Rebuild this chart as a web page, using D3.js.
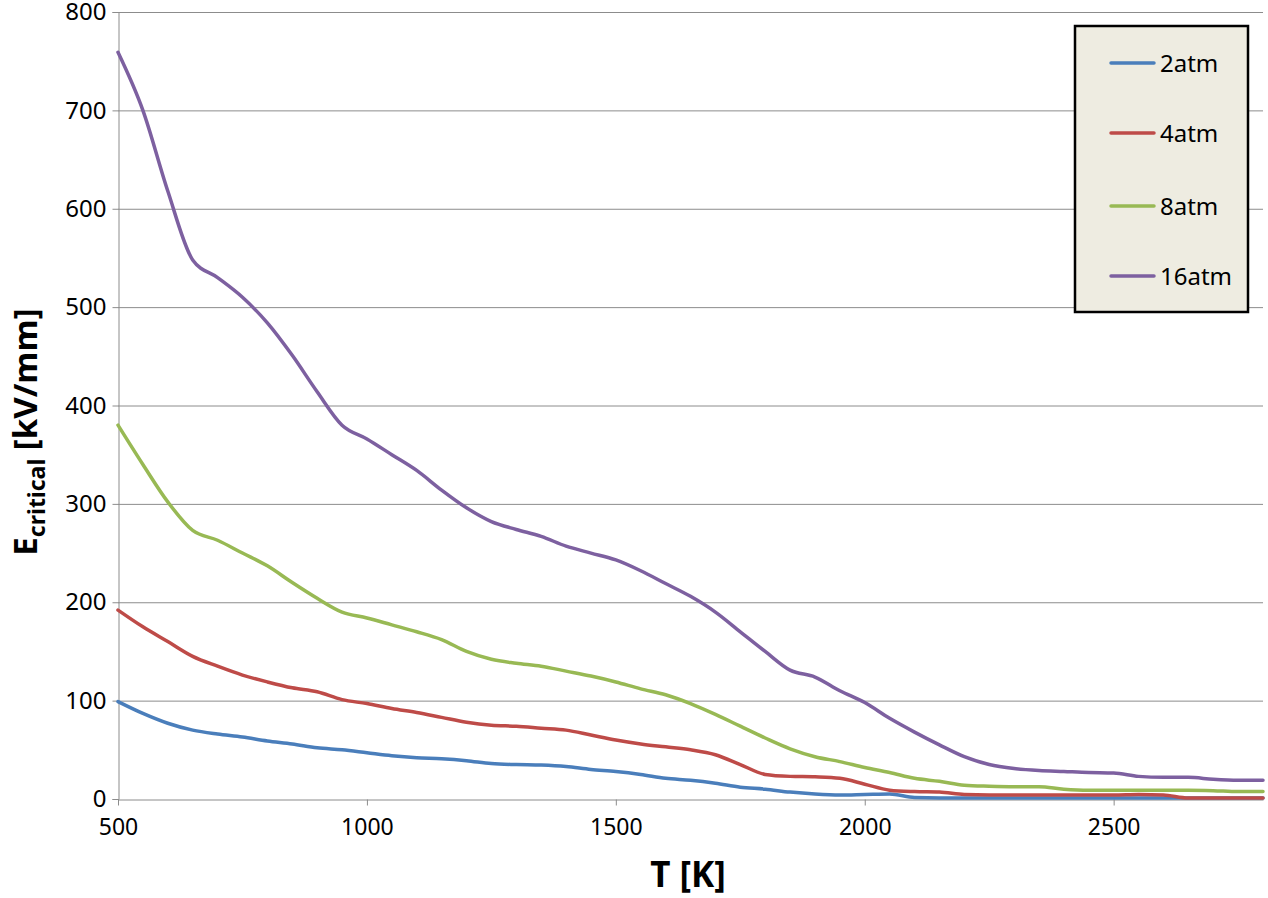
<!DOCTYPE html>
<html><head><meta charset="utf-8">
<script src="https://cdn.jsdelivr.net/npm/d3@7/dist/d3.min.js"></script>
<style>body{margin:0;background:#fff}svg{display:block}</style>
</head><body>
<svg id="c" width="1268" height="898"></svg>
<script>
const temps = [500,550,600,650,700,750,800,850,900,950,1000,1050,1100,1150,1200,1250,1300,1350,1400,1450,1500,1550,1600,1650,1700,1750,1800,1850,1900,1950,2000,2050,2100,2150,2200,2250,2300,2350,2400,2450,2500,2550,2600,2650,2700,2750,2800];
const atm2  = [99,87,77,70,66,63,59,56,52,50,47,44,42,41,39,36,35,34.5,33,30,28,25,21,19,16,12,10,7,5,4,4.5,5,1.5,1,1,1,1,1,1,1,1,1,1,1,1,1,1];
const atm4  = [192,175,160,145,135,126,119,113,109,101,97,92,88,83,78,75,74,72,70,65,60,56,53,50,45,35,25,23,22.5,21,15,9,7.5,7,4.5,4,4,4,4,4,4,4.5,4,1,1,1,1];
const atm8  = [380,340,302,273,263,250,237,220,204,190,184,177,170,162,150,142,138,135,130,125,119,112,106,97,86,74,62,51,43,38,32,27,21,18,14,13,12.5,12.5,10,9,9,9,9,9,8.5,7.5,7.5];
const atm16 = [759,700,618,548,530,510,484,451,414,380,366,350,334,314,296,282,274,267,257,250,243,232,219,206,190,170,150,131,124,110,98,82,68,55,43,35,31,29,28,27,26.5,23,22,22,20,19,19];
const seriesNames = ["2atm","4atm","8atm","16atm"];
const seriesColors = ["#4A7EBB","#BE4B48","#98B954","#7D60A0"];
const xTicks = [500,1000,1500,2000,2500];
const yTicks = [0,100,200,300,400,500,600,700,800];

const svg = d3.select("#c");
const L=118, R=1263, T=12, B=799;
const x = d3.scaleLinear().domain([500,2800]).range([L,R]);
const y = d3.scaleLinear().domain([0,800]).range([B,T]);
const font = "'Noto Sans', 'DejaVu Sans', sans-serif";

// gridlines
svg.append("g").selectAll("line").data(yTicks.filter(d=>d>0)).join("line")
  .attr("x1",L).attr("x2",R).attr("y1",d=>y(d)+0.5).attr("y2",d=>y(d)+0.5)
  .attr("stroke","#8c8c8c").attr("stroke-width",1);

// y axis
const ya = svg.append("g").attr("transform",`translate(${L+0.5},0)`)
  .call(d3.axisLeft(y).tickValues(yTicks).tickSize(6).tickPadding(6).tickFormat(d3.format("d")));
ya.select(".domain").attr("stroke","#8c8c8c");
ya.selectAll(".tick line").attr("stroke","#8c8c8c");
ya.selectAll("text").attr("font-family",font).attr("font-size",24).attr("fill","#000");

// x axis
const xa = svg.append("g").attr("transform",`translate(0,${B+0.5})`)
  .call(d3.axisBottom(x).tickValues(xTicks).tickSize(6).tickPadding(13).tickFormat(d3.format("d")).tickSizeOuter(0));
xa.select(".domain").attr("stroke","#8c8c8c");
xa.selectAll(".tick line").attr("stroke","#8c8c8c");
xa.selectAll("text").attr("font-family",font).attr("font-size",23).attr("fill","#000");

// lines
const allSeries = [atm2, atm4, atm8, atm16];
const line = d3.line().x((d,i)=>x(temps[i])).y(d=>y(d)).curve(d3.curveMonotoneX);
svg.append("g").selectAll("path").data(allSeries).join("path")
  .attr("d",d=>line(d)).attr("fill","none")
  .attr("stroke",(d,i)=>seriesColors[i]).attr("stroke-width",3.5)
  .attr("stroke-linejoin","round").attr("stroke-linecap","round");

// legend
const lg = svg.append("g");
lg.append("rect").attr("x",1075).attr("y",26).attr("width",173).attr("height",286)
  .attr("fill","#EEECE1").attr("stroke","#000").attr("stroke-width",2.5);
const ly = [63,133,206,276];
seriesNames.forEach((n,i)=>{
  lg.append("line").attr("x1",1111).attr("x2",1154).attr("y1",ly[i]).attr("y2",ly[i])
    .attr("stroke",seriesColors[i]).attr("stroke-width",3.5).attr("stroke-linecap","round");
  lg.append("text").attr("x",1160).attr("y",ly[i]+9).attr("font-family",font).attr("font-size",24)
    .attr("fill","#000").text(n);
});

// axis titles
svg.append("text").attr("x",688).attr("y",887).attr("text-anchor","middle")
  .attr("font-family",font).attr("font-weight","bold").attr("font-size",35).text("T [K]");
const yt = svg.append("text").attr("transform","translate(37,432) rotate(-90)").attr("text-anchor","middle")
  .attr("font-family",font).attr("font-weight","bold").attr("font-size",33);
yt.append("tspan").text("E");
yt.append("tspan").attr("font-size",23).attr("dy",8).text("critical");
yt.append("tspan").attr("dy",-8).text(" [kV/mm]");
</script>
</body></html>
